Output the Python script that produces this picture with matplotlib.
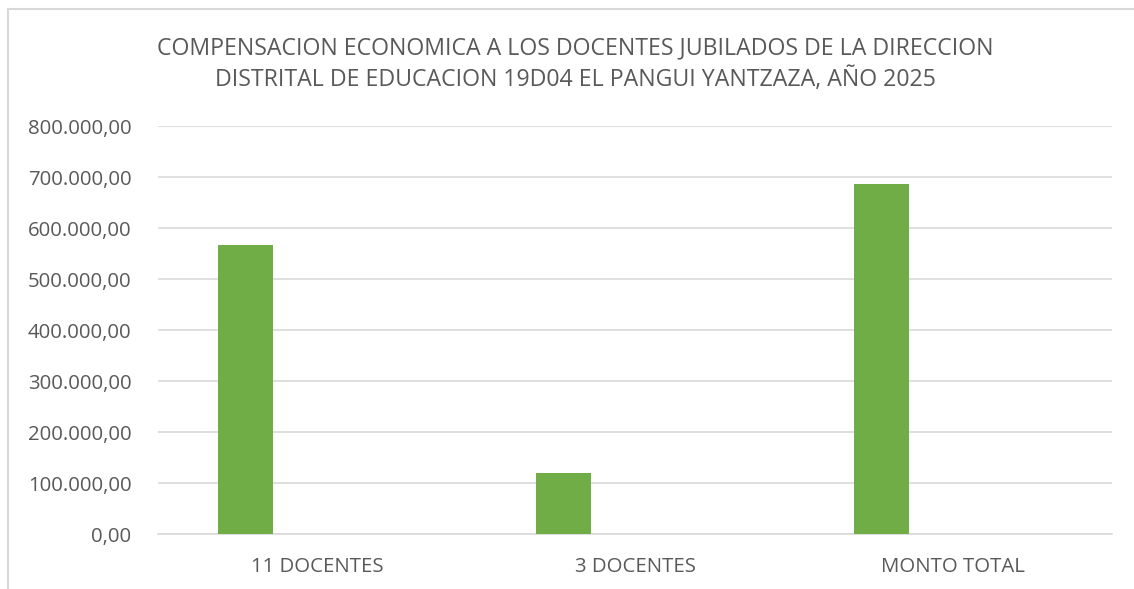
import matplotlib
matplotlib.use("Agg")
import matplotlib.pyplot as plt
from matplotlib.ticker import FuncFormatter
from matplotlib.patches import Rectangle
import numpy as np

# datos
categorias = ["11 DOCENTES", "3 DOCENTES", "MONTO TOTAL"]
montos = [566700, 119600, 686300]
titulo = ("COMPENSACION ECONOMICA A LOS DOCENTES JUBILADOS DE LA DIRECCION\n"
          "DISTRITAL DE EDUCACION 19D04 EL PANGUI YANTZAZA, AÑO 2025")

plt.rcParams['font.family'] = ['Open Sans', 'DejaVu Sans']
gris = '#595959'


def formato_es(v, pos=None):
    # 800000 -> 800.000,00
    s = "{:,.2f}".format(v)
    return s.replace(",", "X").replace(".", ",").replace("X", ".")


fig = plt.figure(figsize=(11.34, 5.89), dpi=100)
ax = fig.add_axes([0.1393, 0.0929, 0.8413, 0.6927])

x = np.arange(len(categorias))
ax.bar(x - 0.225, montos, width=0.175, color='#70AD47', zorder=3)

ax.set_xlim(-0.5, len(categorias) - 0.5)
ax.set_ylim(0, 800000)
ax.set_yticks(np.arange(0, 800001, 100000))
ax.yaxis.set_major_formatter(FuncFormatter(formato_es))
ax.set_xticks(x)
ax.set_xticklabels(categorias)

ax.grid(axis='y', color='#d9d9d9', linewidth=1.2, zorder=0)
for s in ['top', 'right', 'left']:
    ax.spines[s].set_visible(False)
ax.spines['bottom'].set_color('#d9d9d9')
ax.spines['bottom'].set_linewidth(1.2)
ax.tick_params(axis='both', length=0, colors=gris, labelsize=14.7)
ax.tick_params(axis='y', pad=19)
ax.tick_params(axis='x', pad=16)

fig.text(0.507, 0.891, titulo, ha='center', va='center', fontsize=16.7,
         color=gris, linespacing=1.38)

# marco del area del grafico
fig.patches.append(Rectangle((8 / 1134, -0.01), 1.2, 1 - 9 / 589 + 0.01,
                             transform=fig.transFigure, fill=False,
                             edgecolor='#d9d9d9', linewidth=1.5))

fig.savefig("out.png", dpi=100)
